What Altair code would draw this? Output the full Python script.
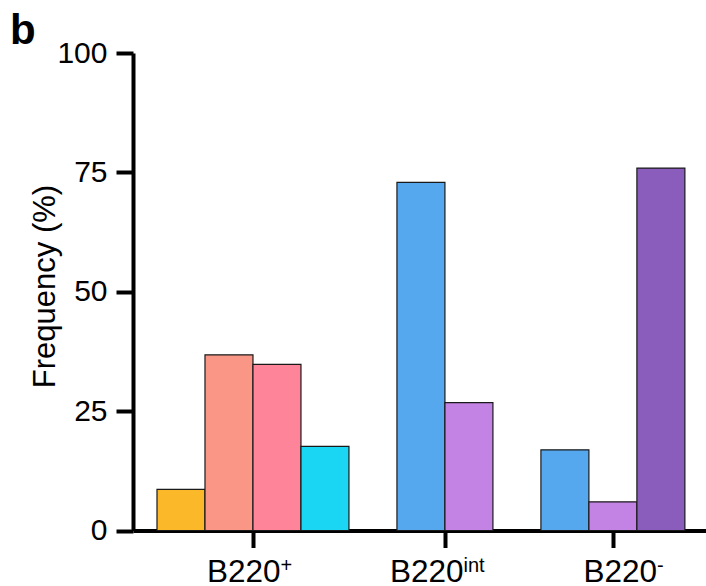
import altair as alt
import pandas as pd

# Bar groups and their member bars (left to right)
groups = ["B220+", "B220int", "B220-"]
group_base = ["B220", "B220", "B220"]
group_sup = ["+", "int", "-"]
group_sizes = [4, 2, 3]
freq = [8.6, 36.8, 34.8, 17.6, 72.9, 26.8, 16.9, 6.0, 75.9]
fills = ["#FBB829", "#F99686", "#FE8499", "#1BD6F2",
         "#55A8EE", "#C383E5",
         "#55A8EE", "#C383E5", "#8A5DBD"]
y_ticks = [0, 25, 50, 75, 100]

FONT = "Liberation Sans"
W, H = 573, 477.5

# Each bar takes one slot; one empty slot separates groups
rows, centers = [], []
slot = 0
i = 0
for g, n in zip(groups, group_sizes):
    centers.append(slot + n / 2)
    for _ in range(n):
        rows.append({"bar": f"b{i}", "group": g, "x0": slot, "x1": slot + 1, "freq": freq[i]})
        slot += 1
        i += 1
    slot += 1
bars_df = pd.DataFrame(rows)

x_scale = alt.Scale(domain=[-0.5, 11.44], nice=False, zero=False)
y_scale = alt.Scale(domain=[0, 100], nice=False)

bars = alt.Chart(bars_df).mark_rect(stroke="#1a1a1a", strokeWidth=1.2).encode(
    x=alt.X("x0:Q", scale=x_scale,
            axis=alt.Axis(values=centers, labels=False, title=None, grid=False,
                          ticks=True, tickSize=17, tickWidth=4,
                          domainWidth=4, domainColor="black", tickColor="black")),
    x2="x1:Q",
    y=alt.Y("freq:Q", scale=y_scale,
            axis=alt.Axis(values=y_ticks, title="Frequency (%)", grid=False,
                          tickSize=17, tickWidth=4, domainWidth=4,
                          domainColor="black", tickColor="black",
                          labelFont=FONT, labelFontSize=30, labelColor="black",
                          labelPadding=9,
                          titleFont=FONT, titleFontSize=31, titleFontWeight="normal",
                          titleColor="black", titleAngle=270, titleX=-88, titleY=233,
                          titleBaseline="middle", titleAlign="center")),
    y2=alt.datum(0),
    color=alt.Color("bar:N", scale=alt.Scale(domain=list(bars_df["bar"]), range=fills),
                    legend=None),
)

# Category labels with superscripts, placed under each group tick
label_shift = [-46, -55, -29.5]
BASE_ADV = 73.5
layers = [bars]
for c, base, sup, dx in zip(centers, group_base, group_sup, label_shift):
    ldf = pd.DataFrame({"pos": [c], "base": [base], "sup": [sup]})
    base_txt = alt.Chart(ldf).mark_text(
        font=FONT, fontSize=31.5, align="left", baseline="alphabetic", dx=dx, color="black"
    ).encode(x=alt.X("pos:Q", scale=x_scale), y=alt.value(529.2), text="base:N")
    sup_txt = alt.Chart(ldf).mark_text(
        font=FONT, fontSize=20, align="left", baseline="alphabetic", dx=dx + BASE_ADV, color="black"
    ).encode(x=alt.X("pos:Q", scale=x_scale), y=alt.value(519.2), text="sup:N")
    layers += [base_txt, sup_txt]

panel = alt.Chart(pd.DataFrame({"t": ["b"]})).mark_text(
    font=FONT, fontSize=42, fontWeight="bold", align="left", baseline="alphabetic", color="black"
).encode(x=alt.value(-123), y=alt.value(-9), text="t:N")
layers.append(panel)

chart = alt.layer(*layers).properties(
    width=W, height=H,
    background="white",
    autosize=alt.AutoSizeParams(type="none"),
    padding={"left": 133, "top": 53, "right": 0, "bottom": 55.5},
).configure_view(stroke=None, strokeWidth=0)

chart.save("out.html", embed_options={"renderer": "svg", "actions": False})
